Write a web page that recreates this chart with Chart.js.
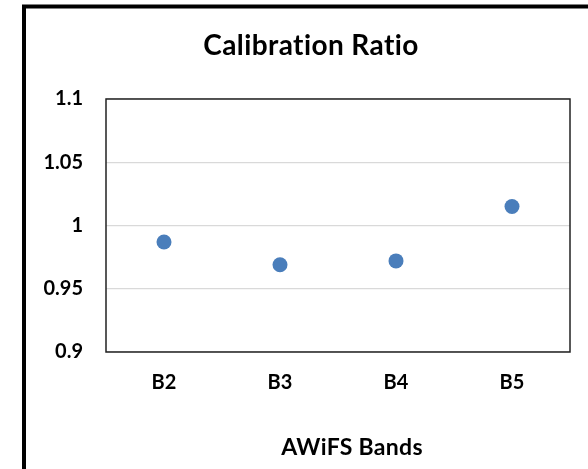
<!DOCTYPE html>
<html>
<head>
<meta charset="utf-8">
<script src="https://cdn.jsdelivr.net/npm/chart.js@4.4.1/dist/chart.umd.min.js"></script>
<style>
  html, body { margin: 0; padding: 0; background: #fff; }
  #wrap { width: 588px; height: 469px; position: relative; }
</style>
</head>
<body>
<div id="wrap"><canvas id="ratioChart" width="588" height="469"></canvas></div>
<script>
// Chart data
const bands = ['B2', 'B3', 'B4', 'B5'];
const ratios = [0.987, 0.969, 0.972, 1.015];
const yTickValues = [0.9, 0.95, 1, 1.05, 1.1];
const chartTitle = 'Calibration Ratio';
const xAxisTitle = 'AWiFS Bands';

const fontFamily = 'Lato, "Open Sans", sans-serif';

// Outer frame, plot-area box and the titles (placed like the Excel original)
const framePlugin = {
    id: 'frame',
    beforeDraw(chart) {
        const ctx = chart.ctx;
        ctx.save();
        ctx.fillStyle = '#fff';
        ctx.fillRect(0, 0, chart.width, chart.height);
        ctx.restore();
    },
    afterDraw(chart) {
        const ctx = chart.ctx;
        const a = chart.chartArea;
        ctx.save();
        ctx.strokeStyle = '#000';
        ctx.lineWidth = 4;
        ctx.strokeRect(24, 6.5, 700, 600);
        ctx.strokeStyle = '#222';
        ctx.lineWidth = 1.5;
        ctx.strokeRect(a.left, a.top, a.right - a.left, a.bottom - a.top);

        ctx.fillStyle = '#000';
        ctx.textAlign = 'center';
        ctx.textBaseline = 'alphabetic';
        ctx.font = 'bold 28px ' + fontFamily;
        ctx.letterSpacing = '0.4px'; // also breaks the "ti" ligature
        ctx.fillText(chartTitle, 311, 55);
        ctx.font = 'bold 23px ' + fontFamily;
        ctx.letterSpacing = '0.3px';
        ctx.fillText(xAxisTitle, 352, 455);
        ctx.restore();
    }
};

const ctx = document.getElementById('ratioChart').getContext('2d');
new Chart(ctx, {
    type: 'line',
    data: {
        labels: bands,
        datasets: [{
            label: chartTitle,
            data: ratios,
            showLine: false,
            pointRadius: 7.5,
            pointHoverRadius: 7.5,
            pointBackgroundColor: '#4a7ebb',
            pointBorderColor: '#4a7ebb',
            pointBorderWidth: 0
        }]
    },
    options: {
        responsive: false,
        animation: false,
        events: [],
        layout: { padding: { left: 0, right: 18, top: 99, bottom: 0 } },
        plugins: {
            legend: { display: false },
            tooltip: { enabled: false },
            title: { display: false }
        },
        scales: {
            x: {
                offset: true,
                grid: { display: false, drawTicks: false },
                border: { display: false },
                ticks: {
                    color: '#000',
                    padding: 19,
                    font: { family: fontFamily, size: 20, weight: 'bold' }
                },
                afterFit(scale) { scale.height = 117; }
            },
            y: {
                min: 0.9,
                max: 1.1,
                afterBuildTicks(scale) {
                    scale.ticks = yTickValues.map(v => ({ value: v }));
                },
                grid: { color: '#d9d9d9', lineWidth: 1.3, drawTicks: false },
                border: { display: false },
                ticks: {
                    color: '#000',
                    padding: 23,
                    font: { family: fontFamily, size: 20, weight: 'bold' },
                    callback: v => parseFloat(v.toFixed(2)).toString()
                },
                afterFit(scale) { scale.width = 106; }
            }
        }
    },
    plugins: [framePlugin]
});
</script>
</body>
</html>
